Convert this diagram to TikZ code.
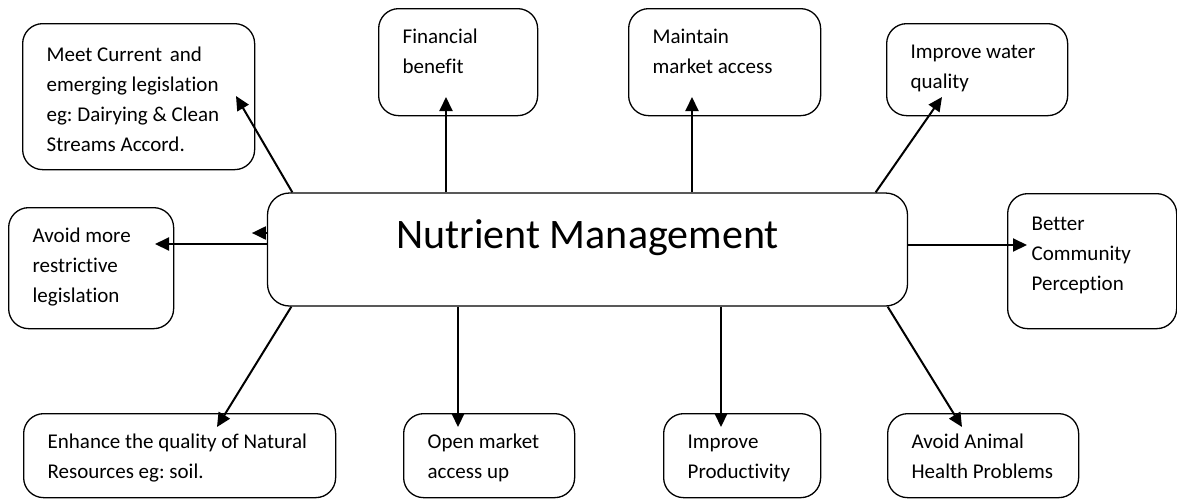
\documentclass[tikz,border=0pt]{standalone}
\usepackage{fontspec}
\setmainfont{Carlito}[Ligatures=CommonOff]
\usetikzlibrary{arrows.meta}
\frenchspacing

\newcommand{\goaltxt}[2]{\parbox[t]{#1}{\raggedright\leftskip=24pt #2}}

\tikzset{
    goal/.style n args={3}{draw, line width=1.3pt, rounded corners=20pt, inner sep=0pt,
        anchor=north west, minimum width=#1, minimum height=#2,
        text height=35pt, text depth=#3, font=\fontsize{21}{30}\selectfont},
    hub/.style={draw, line width=1.3pt, rounded corners=22pt, inner sep=0pt,
        font=\fontsize{42}{50}\selectfont},
    arr/.style={line width=2pt, -{Triangle[length=14pt,width=13pt]}}
}

\begin{document}
\begin{tikzpicture}[x=1pt, y=-1pt]
    \useasboundingbox (0,0) rectangle (1177,499);

    \node[hub, minimum width=640pt, minimum height=113pt, text height=27pt, text depth=30pt]
        (nm) at (587.5,249.5) {Nutrient Management};

    \node[goal={232pt}{146pt}{108pt}, text height=38pt] (meet) at (22,23) {\goaltxt{232pt}{Meet Current\hspace{3pt} and\\emerging legislation\\eg: Dairying \& Clean\\Streams Accord.}};
    \node[goal={159pt}{107pt}{72pt}]  (fin)    at (378,8)   {\goaltxt{159pt}{Financial\\benefit}};
    \node[goal={192pt}{107pt}{72pt}]  (maint)  at (628,8)   {\goaltxt{192pt}{Maintain\\market access}};
    \node[goal={181pt}{92pt}{57pt}]   (water)  at (886,23)  {\goaltxt{181pt}{Improve water\\quality}};
    \node[goal={165pt}{121pt}{86pt}]  (avoid)  at (8,207)   {\goaltxt{165pt}{Avoid more\\restrictive\\legislation}};
    \node[goal={169pt}{135pt}{98pt}, text height=37pt] (better) at (1007,193) {\goaltxt{169pt}{Better\\Community\\Perception}};
    \node[goal={312pt}{84pt}{49pt}]   (enh)    at (23,413)  {\goaltxt{312pt}{Enhance the quality of Natural\\Resources eg: soil.}};
    \node[goal={171pt}{84pt}{49pt}]   (open)   at (403,413) {\goaltxt{171pt}{Open market\\access up}};
    \node[goal={157pt}{84pt}{49pt}]   (prod)   at (663,413) {\goaltxt{157pt}{Improve\\Productivity}};
    \node[goal={191pt}{84pt}{49pt}]   (animal) at (887,413) {\goaltxt{191pt}{Avoid Animal\\Health Problems}};

    \coordinate (meetTip)   at (236,96);
    \coordinate (finTip)    at (446,97);
    \coordinate (maintTip)  at (692,97);
    \coordinate (waterTip)  at (942,97);
    \coordinate (avoidTip)  at (155,244);
    \coordinate (betterTip) at (1027,245);
    \coordinate (enhTip)    at (217,427);
    \coordinate (openTip)   at (458,427);
    \coordinate (prodTip)   at (721,427);
    \coordinate (animalTip) at (962,427);

    \draw[arr] ([xshift=25.5pt]nm.north west) -- (meetTip);
    \draw[arr] (nm.north -| finTip) -- (finTip);
    \draw[arr] (nm.north -| maintTip) -- (maintTip);
    \draw[arr] ([xshift=-32.5pt]nm.north east) -- (waterTip);
    \draw[arr] (nm.west |- avoidTip) -- (avoidTip);
    \draw[arr] ([yshift=16.5pt]nm.west) -- ++(-15,0);
    \draw[arr] (nm.east |- betterTip) -- (betterTip);
    \draw[arr] ([xshift=24.5pt]nm.south west) -- (enhTip);
    \draw[arr] (nm.south -| openTip) -- (openTip);
    \draw[arr] (nm.south -| prodTip) -- (prodTip);
    \draw[arr] ([xshift=-20.5pt]nm.south east) -- (animalTip);

  \end{tikzpicture}
\end{document}
